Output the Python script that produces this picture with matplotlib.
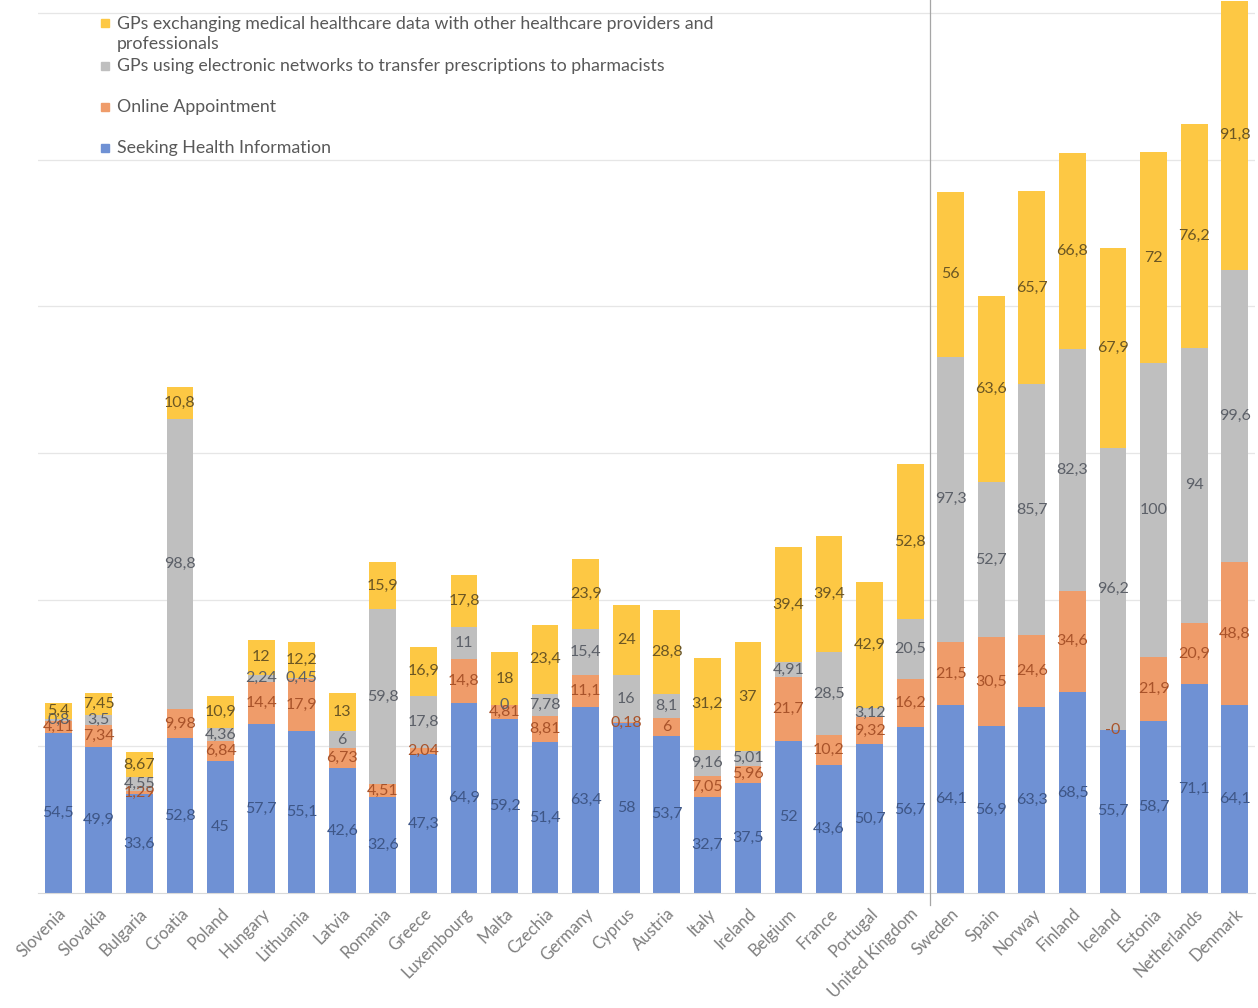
import matplotlib
matplotlib.use("Agg")
from matplotlib import pyplot as plt
from matplotlib.patches import Rectangle
import numpy as np

countries = ["Slovenia", "Slovakia", "Bulgaria", "Croatia", "Poland", "Hungary",
             "Lithuania", "Latvia", "Romania", "Greece", "Luxembourg", "Malta",
             "Czechia", "Germany", "Cyprus", "Austria", "Italy", "Ireland",
             "Belgium", "France", "Portugal", "United Kingdom", "Sweden", "Spain",
             "Norway", "Finland", "Iceland", "Estonia", "Netherlands", "Denmark"]

seeking_info = [54.5, 49.9, 33.6, 52.8, 45, 57.7, 55.1, 42.6, 32.6, 47.3, 64.9, 59.2,
                51.4, 63.4, 58, 53.7, 32.7, 37.5, 52, 43.6, 50.7, 56.7, 64.1, 56.9,
                63.3, 68.5, 55.7, 58.7, 71.1, 64.1]
online_appt = [4.11, 7.34, 1.29, 9.98, 6.84, 14.4, 17.9, 6.73, 4.51, 2.04, 14.8, 4.81,
               8.81, 11.1, 0.18, 6, 7.05, 5.96, 21.7, 10.2, 9.32, 16.2, 21.5, 30.5,
               24.6, 34.6, -0.0, 21.9, 20.9, 48.8]
e_prescription = [0.8, 3.5, 4.55, 98.8, 4.36, 2.24, 0.45, 6, 59.8, 17.8, 11, 0,
                  7.78, 15.4, 16, 8.1, 9.16, 5.01, 4.91, 28.5, 3.12, 20.5, 97.3, 52.7,
                  85.7, 82.3, 96.2, 100, 94, 99.6]
data_exchange = [5.4, 7.45, 8.67, 10.8, 10.9, 12, 12.2, 13, 15.9, 16.9, 17.8, 18,
                 23.4, 23.9, 24, 28.8, 31.2, 37, 39.4, 39.4, 42.9, 52.8, 56, 63.6,
                 65.7, 66.8, 67.9, 72, 76.2, 91.8]

series = [
    ("Seeking Health Information", seeking_info, "#6f91d4", "#3e5686"),
    ("Online Appointment", online_appt, "#ef9c6a", "#a9532a"),
    ("GPs using electronic networks to transfer prescriptions to pharmacists",
     e_prescription, "#bfbfbf", "#5c6068"),
    ("GPs exchanging medical healthcare data with other healthcare providers and\nprofessionals",
     data_exchange, "#fdc844", "#6b5624"),
]

font = ["Lato", "DejaVu Sans"]

fig = plt.figure(figsize=(12.58, 10.08), dpi=100)
ax = fig.add_axes([38 / 1258, 1 - 893 / 1008, (1255 - 38) / 1258, 893 / 1008])

x = np.arange(len(countries))
bottom = np.zeros(len(countries))
for label, vals, color, txt_color in series:
    vals = np.array(vals, dtype=float)
    ax.bar(x, vals, 0.66, bottom=bottom, color=color, zorder=2)
    for xi, b, v in zip(x, bottom, vals):
        s = f"{v:g}".replace(".", ",")
        ax.text(xi, b + v / 2, s, ha="center", va="center", fontsize=11.5,
                color=txt_color, family=font, zorder=3)
    bottom += vals

ax.set_xlim(-0.5, len(countries) - 0.5)
ax.set_ylim(0, 304.5)
ax.set_yticks(np.arange(50, 301, 50))
ax.yaxis.grid(True, color="#e6e6e6", linewidth=0.9, zorder=0)
ax.tick_params(axis="y", length=0, labelleft=False)
ax.tick_params(axis="x", length=0, pad=9)
for side in ["top", "left", "right"]:
    ax.spines[side].set_visible(False)
ax.spines["bottom"].set_color("#d9d9d9")

ax.set_xticks(x)
ax.set_xticklabels(countries, rotation=45, ha="right", rotation_mode="anchor",
                   fontsize=12, color="#7f7f7f", family=font)

# divider between the two country groups
ax.plot([21.5, 21.5], [-4, 304.5], color="#a6a6a6", linewidth=0.9,
        clip_on=False, zorder=4)

# legend, top entry first
legend_rows = [(series[3], 34, 23), (series[2], 66, 66), (series[1], 107, 107),
               (series[0], 148, 148)]
for (label, _, color, _), text_y, box_y in legend_rows:
    fig.patches.append(Rectangle((101 / 1258, 1 - (box_y + 4) / 1008), 8 / 1258, 8 / 1008,
                                 transform=fig.transFigure, color=color))
    fig.text(117 / 1258, 1 - text_y / 1008, label, ha="left", va="center",
             fontsize=12.8, color="#595959", family=font, linespacing=1.32)

fig.savefig("out.png", dpi=100, facecolor="white")
